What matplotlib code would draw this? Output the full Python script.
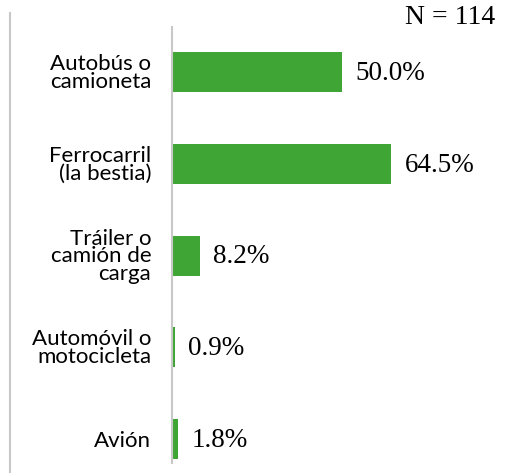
import matplotlib
matplotlib.use('Agg')
import matplotlib.pyplot as plt
from matplotlib.lines import Line2D

# Data
categories = ['Autobús o\ncamioneta', 'Ferrocarril\n(la bestia)', 'Tráiler o\ncamión de\ncarga',
              'Automóvil o\nmotocicleta', 'Avión']
values = [50.0, 64.5, 8.2, 0.9, 1.8]
n_label = 'N = 114'

green = '#3fa535'
grey = '#c8c8c8'

fig = plt.figure(figsize=(5.06, 4.73), dpi=100)
ax = fig.add_axes([172 / 506, 1 - 463 / 473, 1 - 172 / 506, 436 / 473])

y = list(range(len(categories)))
ax.barh(y, values, height=0.436, color=green)
ax.set_xlim(0, (506 - 172) / 3.4)
ax.set_ylim(4.26, -0.49)

for yi, v in zip(y, values):
    ax.annotate(f'{v:.1f}%', (v, yi), xytext=(9.5, -1), textcoords='offset points',
                va='center', ha='left', fontsize=19.5, family='Liberation Serif')

ax.set_yticks(y)
ax.set_yticklabels(categories, fontsize=16, family='Lato', linespacing=0.85)
ax.tick_params(axis='y', length=0, pad=15)
ax.set_xticks([])
for s in ['top', 'right', 'bottom']:
    ax.spines[s].set_visible(False)
ax.spines['left'].set_color(grey)
ax.spines['left'].set_linewidth(1.5)

# outer frame line on the left
fig.add_artist(Line2D([10 / 506, 10 / 506], [0, 1 - 13 / 473], color=grey, lw=1.5))

fig.text(495 / 506, 1 - 17 / 473, n_label, ha='right', va='center', fontsize=20,
         family='Liberation Serif')

fig.savefig('out.png', dpi=100)
